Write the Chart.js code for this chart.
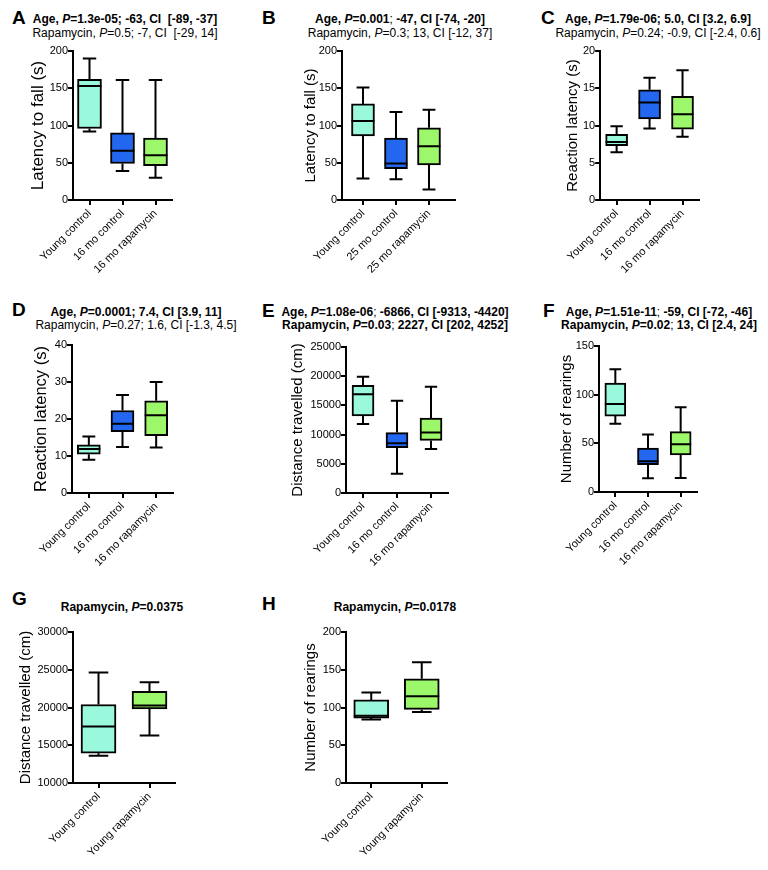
<!DOCTYPE html>
<html>
<head>
<meta charset="utf-8">
<script src="https://cdn.jsdelivr.net/npm/chart.js@4.4.0/dist/chart.umd.min.js"></script>
<style>
  body { margin: 0; background: #fff; font-family: "Liberation Sans", Arial, sans-serif; }
  #fig { position: relative; width: 768px; height: 870px; overflow: hidden; }
  #fig canvas { position: absolute; }
  .letter { position: absolute; font-weight: bold; font-size: 19px; line-height: 19px; color: #000; }
  .ttl { position: absolute; width: 320px; text-align: center; font-size: 12px; line-height: 14px; white-space: nowrap; color: #000; }
</style>
</head>
<body>
<div id="fig">
  <div class="letter" style="left:12px;top:8px">A</div>
  <div class="ttl" style="left:-35px;top:12px"><b>Age, <i>P</i>=1.3e-05; -63, CI&nbsp; [-89, -37]</b></div>
  <div class="ttl" style="left:-35px;top:26px">Rapamycin, <i>P</i>=0.5; -7, CI&nbsp; [-29, 14]</div>

  <div class="letter" style="left:262px;top:8px">B</div>
  <div class="ttl" style="left:240px;top:12px"><b>Age, <i>P</i>=0.001</b>; <b>-47, CI [-74, -20]</b></div>
  <div class="ttl" style="left:240px;top:26px">Rapamycin, <i>P</i>=0.3; 13, CI [-12, 37]</div>

  <div class="letter" style="left:541px;top:8px">C</div>
  <div class="ttl" style="left:498px;top:12px"><b>Age, <i>P</i>=1.79e-06; 5.0, CI [3.2, 6.9]</b></div>
  <div class="ttl" style="left:498px;top:26px">Rapamycin, <i>P</i>=0.24; -0.9, CI [-2.4, 0.6]</div>

  <div class="letter" style="left:12px;top:300px">D</div>
  <div class="ttl" style="left:-24px;top:305px"><b>Age, <i>P</i>=0.0001; 7.4, CI [3.9, 11]</b></div>
  <div class="ttl" style="left:-24px;top:318px">Rapamycin, <i>P</i>=0.27; 1.6, CI [-1.3, 4.5]</div>

  <div class="letter" style="left:262px;top:301px">E</div>
  <div class="ttl" style="left:235px;top:305px"><b>Age, <i>P</i>=1.08e-06</b>; <b>-6866, CI [-9313, -4420]</b></div>
  <div class="ttl" style="left:235px;top:318px"><b>Rapamycin, <i>P</i>=0.03</b>; <b>2227, CI [202, 4252]</b></div>

  <div class="letter" style="left:543px;top:301px">F</div>
  <div class="ttl" style="left:499px;top:305px"><b>Age, <i>P</i>=1.51e-11</b>; <b>-59, CI [-72, -46]</b></div>
  <div class="ttl" style="left:499px;top:318px"><b>Rapamycin, <i>P</i>=0.02</b>; <b>13, CI [2.4, 24]</b></div>

  <div class="letter" style="left:12px;top:589px">G</div>
  <div class="ttl" style="left:-38px;top:600px"><b>Rapamycin, <i>P</i>=0.0375</b></div>

  <div class="letter" style="left:262px;top:594px">H</div>
  <div class="ttl" style="left:235px;top:600px"><b>Rapamycin, <i>P</i>=0.0178</b></div>
</div>
<script>
// group names
const cats16 = ["Young control", "16 mo control", "16 mo rapamycin"];
const cats25 = ["Young control", "25 mo control", "25 mo rapamycin"];
const catsYoung = ["Young control", "Young rapamycin"];

// box stats per panel: whisker low, q1, median, q3, whisker high
const loA = [92, 39, 30],     q1A = [96, 49, 46],     medA = [153, 66, 60],     q3A = [162, 90, 83],     hiA = [190, 161, 161];
const loB = [29, 28, 14],     q1B = [86, 42, 47],     medB = [106, 49, 72],     q3B = [129, 83, 97],     hiB = [151, 118, 121];
const loC = [6.4, 9.6, 8.5],  q1C = [7.3, 10.9, 9.5], medC = [7.8, 13.1, 11.5], q3C = [8.8, 14.8, 13.9], hiC = [9.9, 16.4, 17.4];
const loD = [9.0, 12.4, 12.3], q1D = [10.5, 16.6, 15.5], medD = [11.9, 18.7, 21.0], q3D = [13.0, 22.3, 24.9], hiD = [15.3, 26.5, 30.0];
const loE = [11800, 3300, 7550], q1E = [13200, 7750, 9000], medE = [16900, 8500, 10350], q3E = [18450, 10350, 12850], hiE = [19900, 15800, 18200];
const loF = [70, 14, 14.5],   q1F = [78, 28, 38],     medF = [90.5, 31.5, 49],  q3F = [112, 45, 62],     hiF = [126, 59, 87];
const loG = [13600, 16300],   q1G = [13950, 19800],   medG = [17500, 20250],    q3G = [20400, 22150],    hiG = [24650, 23350];
const loH = [84, 94],         q1H = [86, 97.5],       medH = [89, 115],         q3H = [110, 138],        hiH = [120, 160];

const CYAN = "#9af8dc", BLUE = "#2366f0", GREEN = "#9cf86a";
const FONT = '"Liberation Sans", Arial, sans-serif';
Chart.defaults.font.family = FONT;
Chart.defaults.color = "#000";

// whiskers + median drawn on top of the floating-bar boxes
const whiskers = {
  id: "whiskers",
  afterDatasetsDraw(chart, args, o) {
    const ctx = chart.ctx, y = chart.scales.y;
    ctx.save();
    ctx.strokeStyle = "#000";
    ctx.lineWidth = 2;
    chart.getDatasetMeta(0).data.forEach((bar, i) => {
      const { x, width } = bar.getProps(["x", "width"], true);
      const cap = width * 0.56;
      const yLo = y.getPixelForValue(o.lo[i]), yHi = y.getPixelForValue(o.hi[i]);
      const yQ1 = y.getPixelForValue(o.q1[i]), yQ3 = y.getPixelForValue(o.q3[i]);
      const yMed = y.getPixelForValue(o.med[i]);
      ctx.beginPath();
      ctx.moveTo(x, yQ3); ctx.lineTo(x, yHi);
      ctx.moveTo(x - cap / 2, yHi); ctx.lineTo(x + cap / 2, yHi);
      ctx.moveTo(x, yQ1); ctx.lineTo(x, yLo);
      ctx.moveTo(x - cap / 2, yLo); ctx.lineTo(x + cap / 2, yLo);
      ctx.moveTo(x - width / 2, yMed); ctx.lineTo(x + width / 2, yMed);
      ctx.stroke();
    });
    ctx.restore();
  }
};

// L/T/R/B = chart area edges, tx = y title centre, ts = y title size
const panels = [
  { cats: cats16, lo: loA, q1: q1A, med: medA, q3: q3A, hi: hiA, colors: [CYAN, BLUE, GREEN],
    yMin: 0, yMax: 200, step: 50, yTitle: "Latency to fall (s)", L: 73, T: 51, R: 172, B: 200, tx: 38, ts: 17, bw: 24 },
  { cats: cats25, lo: loB, q1: q1B, med: medB, q3: q3B, hi: hiB, colors: [CYAN, BLUE, GREEN],
    yMin: 0, yMax: 200, step: 50, yTitle: "Latency to fall (s)", L: 342, T: 51, R: 455, B: 200, tx: 311, ts: 15, bw: 23,
    xMin: -0.636, xMax: 2.788 },
  { cats: cats16, lo: loC, q1: q1C, med: medC, q3: q3C, hi: hiC, colors: [CYAN, BLUE, GREEN],
    yMin: 0, yMax: 20, step: 5, yTitle: "Reaction latency (s)", L: 599, T: 51, R: 699, B: 200, tx: 572, ts: 15, bw: 22 },
  { cats: cats16, lo: loD, q1: q1D, med: medD, q3: q3D, hi: hiD, colors: [CYAN, BLUE, GREEN],
    yMin: 0, yMax: 40, step: 10, yTitle: "Reaction latency (s)", L: 72, T: 345, R: 173, B: 493, tx: 42, ts: 16.5, bw: 23 },
  { cats: cats16, lo: loE, q1: q1E, med: medE, q3: q3E, hi: hiE, colors: [CYAN, BLUE, GREEN],
    yMin: 0, yMax: 25000, step: 5000, yTitle: "Distance travelled (cm)", L: 346, T: 347, R: 448, B: 493, tx: 298, ts: 15, bw: 22 },
  { cats: cats16, lo: loF, q1: q1F, med: medF, q3: q3F, hi: hiF, colors: [CYAN, BLUE, GREEN],
    yMin: 0, yMax: 150, step: 50, yTitle: "Number of rearings", L: 599, T: 346, R: 697, B: 492, tx: 567, ts: 15, bw: 21 },
  { cats: catsYoung, lo: loG, q1: q1G, med: medG, q3: q3G, hi: hiG, colors: [CYAN, GREEN],
    yMin: 10000, yMax: 30000, step: 5000, yTitle: "Distance travelled (cm)", L: 73, T: 632, R: 175, B: 783, tx: 26, ts: 15, bw: 35 },
  { cats: catsYoung, lo: loH, q1: q1H, med: medH, q3: q3H, hi: hiH, colors: [CYAN, GREEN],
    yMin: 0, yMax: 200, step: 50, yTitle: "Number of rearings", L: 346, T: 632, R: 447, B: 783, tx: 311, ts: 15, bw: 35 }
];

const fig = document.getElementById("fig");

panels.forEach(p => {
  const cx = Math.round(p.tx - 0.6 * p.ts - 2);
  const cy = p.T - 20;
  const w = p.R + 10 - cx;
  const h = p.B + 100 - cy;
  const cv = document.createElement("canvas");
  cv.width = w; cv.height = h;
  cv.style.left = cx + "px"; cv.style.top = cy + "px";
  fig.appendChild(cv);

  const axisGrid = { display: true, drawOnChartArea: false, drawTicks: true, tickLength: 5, color: "#000", lineWidth: 2, offset: false };

  // eslint-disable-next-line no-unused-vars
  const chart = new Chart(cv, {
    type: "bar",
    data: {
      datasets: [{
        data: p.cats.map((c, i) => ({ x: i, y: [p.q1[i], p.q3[i]] })),
        backgroundColor: p.colors,
        borderColor: "#000",
        borderWidth: 2,
        borderSkipped: false,
        barThickness: p.bw
      }]
    },
    options: {
      responsive: false,
      animation: false,
      layout: { padding: { top: 20, right: 10, left: 0, bottom: 0 } },
      plugins: {
        legend: { display: false },
        tooltip: { enabled: false },
        whiskers: { lo: p.lo, q1: p.q1, med: p.med, q3: p.q3, hi: p.hi }
      },
      scales: {
        x: {
          type: "linear",
          offset: false,
          bounds: "data",
          min: p.xMin !== undefined ? p.xMin : -0.5,
          max: p.xMax !== undefined ? p.xMax : p.cats.length - 0.5,
          afterBuildTicks: s => { s.ticks = p.cats.map((c, i) => ({ value: i })); },
          afterFit: s => { s.height = 100; },
          grid: axisGrid,
          border: { display: true, color: "#000", width: 2 },
          ticks: {
            callback: v => p.cats[v],
            minRotation: 45, maxRotation: 45, autoSkip: false,
            color: "#000", font: { size: 11 }, padding: 2
          }
        },
        y: {
          min: p.yMin, max: p.yMax,
          beginAtZero: false,
          afterFit: s => { s.width = p.L - cx; },
          grid: axisGrid,
          border: { display: true, color: "#000", width: 2 },
          ticks: { stepSize: p.step, callback: v => String(v), color: "#000", font: { size: 11 }, padding: 0 },
          title: { display: true, text: p.yTitle, color: "#000", font: { size: p.ts }, padding: { top: 2, bottom: 0 } }
        }
      }
    },
    plugins: [whiskers]
  });
});
</script>
</body>
</html>
